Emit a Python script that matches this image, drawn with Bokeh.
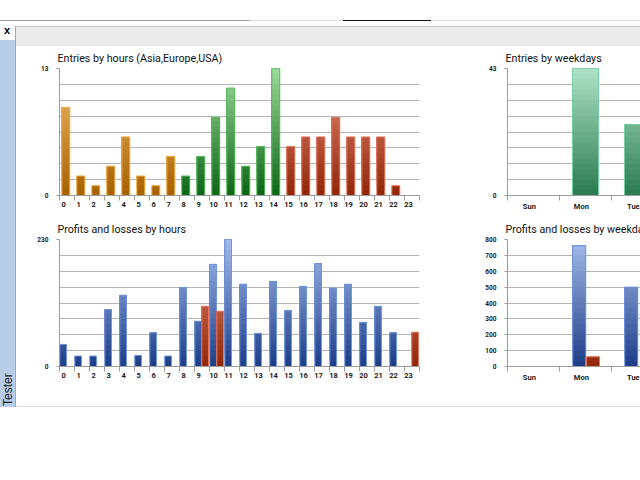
import numpy as np
from bokeh.plotting import figure
from bokeh.models import Range1d, FixedTicker, Div
from bokeh.layouts import column, row
from bokeh.embed import file_html
from bokeh.resources import INLINE

# ---------------- data ----------------
hour_labels = ["0", "1", "2", "3", "4", "5", "6", "7", "8", "9", "10", "11",
               "12", "13", "14", "15", "16", "17", "18", "19", "20", "21", "22", "23"]
hour_session = ["Asia", "Asia", "Asia", "Asia", "Asia", "Asia", "Asia", "Asia",
                "Europe", "Europe", "Europe", "Europe", "Europe", "Europe", "Europe",
                "USA", "USA", "USA", "USA", "USA", "USA", "USA", "USA", "USA"]
entries_by_hour = [9, 2, 1, 3, 6, 2, 1, 4, 2, 4, 8, 11, 3, 5, 13, 5, 6, 6, 8, 6, 6, 6, 1, 0]
profit_by_hour = [40, 19, 19, 103, 129, 20, 61, 19, 143, 82, 185, 230,
                  149, 60, 154, 101, 145, 186, 142, 149, 80, 109, 61, 0]
loss_by_hour = [0, 0, 0, 0, 0, 0, 0, 0, 0, 109, 100, 0,
                0, 0, 0, 0, 0, 0, 0, 0, 0, 0, 0, 62]

weekday_labels = ["Sun", "Mon", "Tue"]
entries_by_weekday = [0, 43, 24]
profit_by_weekday = [0, 760, 500]
loss_by_weekday = [0, 61, 0]

entries_hour_top = 13
entries_weekday_top = 43
pl_hour_top = 230
pl_weekday_ticks = [0, 100, 200, 300, 400, 500, 600, 700, 800]

# ---------------- style ----------------
FONT = "Roboto"
GRID = "#B4B4B4"
AXIS = "#9C9C9C"
PAL = {
    "Asia": ("#F2C06E", "#A66000", "#F4AC45"),
    "Europe": ("#9DD89D", "#0B6614", "#5EBE62"),
    "USA": ("#E8907C", "#902608", "#EA7A60"),
    "week": ("#AEE2C6", "#2A7A50", "#76CFA0"),
    "profit": ("#A4BCEA", "#1C3C86", "#7096E2"),
    "loss": ("#E8907C", "#902608", "#EA7A60"),
}


def _rgb(h):
    return np.array([int(h[i:i + 2], 16) for i in (1, 3, 5)], float)


def _mix(top_hex, bot_hex, t):
    c = _rgb(bot_hex) * (1 - t) + _rgb(top_hex) * t
    return "#%02x%02x%02x" % tuple(int(round(v)) for v in c)


def gradient_bars(p, xs, vals, width, ymax, pal, nb=24):
    top_hex, bot_hex, edge_hex = pal
    xs = np.asarray(xs, float)
    vals = np.asarray(vals, float)
    keep = vals > 0
    xs, vals = xs[keep], vals[keep]
    if len(xs) == 0:
        return
    for k in range(nb):
        lo = ymax * k / nb
        m = vals > lo
        if not m.any():
            break
        p.vbar(x=xs[m], bottom=lo, top=vals[m], width=width,
               fill_color=_mix(top_hex, bot_hex, (k + 0.5) / nb), line_color=None)
    p.vbar(x=xs, bottom=0, top=vals, width=width, fill_color=None,
           line_color=edge_hex, line_width=1)


def make_fig(title, width, height, xr, ymax, yticks, ygrid, xticks, xbounds, xlabels,
             left, right, top, bottom):
    p = figure(width=width, height=height, x_range=xr, y_range=Range1d(0, ymax),
               output_backend="svg", toolbar_location=None, title=title,
               min_border_left=left, min_border_right=right,
               min_border_top=top, min_border_bottom=bottom)
    p.outline_line_color = None
    p.background_fill_color = "white"
    p.border_fill_color = "white"
    p.xgrid.visible = False
    p.title.text_font = FONT
    p.title.text_font_size = "10.7px"
    p.title.text_font_style = "normal"
    p.title.text_color = "#111111"
    p.title.standoff = 7
    p.title.offset = -2

    xa = p.xaxis[0]
    xa.ticker = FixedTicker(ticks=xticks, minor_ticks=xbounds)
    xa.major_label_overrides = {t: l for t, l in zip(xticks, xlabels)}
    xa.major_tick_in = 0
    xa.major_tick_out = 0
    xa.minor_tick_in = 0
    xa.minor_tick_out = 5
    xa.minor_tick_line_color = AXIS
    xa.axis_line_color = AXIS
    xa.major_label_standoff = 1
    xa.major_label_text_font = FONT
    xa.major_label_text_font_size = "7.5px"
    xa.major_label_text_font_style = "bold"
    xa.major_label_text_color = "#1a1a1a"

    ya = p.yaxis[0]
    ya.ticker = FixedTicker(ticks=yticks, minor_ticks=ygrid)
    ya.major_tick_in = 0
    ya.major_tick_out = 3
    ya.minor_tick_in = 0
    ya.minor_tick_out = 0
    ya.major_tick_line_color = AXIS
    ya.axis_line_color = AXIS
    ya.major_label_standoff = 8
    ya.major_label_text_font = FONT
    ya.major_label_text_font_size = "6.5px"
    ya.major_label_text_font_style = "bold"
    ya.major_label_text_color = "#1a1a1a"

    p.ygrid.grid_line_color = GRID
    p.ygrid.minor_grid_line_color = GRID
    return p


hours = np.arange(len(hour_labels))
hour_bounds = [i - 0.27 for i in range(len(hour_labels) + 1)]
days = np.arange(len(weekday_labels))
day_bounds = [i - 0.42 for i in range(len(weekday_labels) + 1)]
hour_range = (-0.27, len(hour_labels) - 0.27)
day_range = (-0.42, -0.42 + 133 / 52)

# ---- chart 1: entries by hours ----
p1 = make_fig("Entries by hours (Asia,Europe,USA)", 444, 169, Range1d(*hour_range),
              entries_hour_top, [0, entries_hour_top],
              [entries_hour_top * k / 8 for k in range(9)],
              list(hours), hour_bounds, hour_labels, 43, 41, 22, 20)
for sess in ["Asia", "Europe", "USA"]:
    m = np.array([s == sess for s in hour_session])
    gradient_bars(p1, hours[m] + 0.15, np.array(entries_by_hour)[m], 0.53,
                  entries_hour_top, PAL[sess])

# ---- chart 2: entries by weekdays ----
p2 = make_fig("Entries by weekdays", 180, 169, Range1d(*day_range),
              entries_weekday_top, [0, entries_weekday_top],
              [entries_weekday_top * k / 8 for k in range(9)],
              list(days), day_bounds, weekday_labels, 47, 0, 22, 20)
gradient_bars(p2, days + 0.08, entries_by_weekday, 0.5, entries_weekday_top, PAL["week"])

# ---- chart 3: profits and losses by hours ----
p3 = make_fig("Profits and losses by hours", 444, 191, Range1d(*hour_range),
              pl_hour_top, [0, pl_hour_top],
              [pl_hour_top * k / 8 for k in range(9)],
              list(hours), hour_bounds, hour_labels, 43, 41, 24, 40)
gradient_bars(p3, hours - 0.027, profit_by_hour, 0.445, pl_hour_top, PAL["profit"])
gradient_bars(p3, hours + 0.44, loss_by_hour, 0.445, pl_hour_top, PAL["loss"])

# ---- chart 4: profits and losses by weekdays ----
p4 = make_fig("Profits and losses by weekdays", 180, 191, Range1d(*day_range),
              pl_weekday_ticks[-1], pl_weekday_ticks, pl_weekday_ticks,
              list(days), day_bounds, weekday_labels, 47, 0, 24, 40)
gradient_bars(p4, days - 0.04, profit_by_weekday, 0.25, pl_weekday_ticks[-1], PAL["profit"])
gradient_bars(p4, days + 0.225, loss_by_weekday, 0.25, pl_weekday_ticks[-1], PAL["loss"])


# ---------------- window frame ----------------
def box(x, y, w, h, color, extra=""):
    return ('<div style="position:absolute;left:%dpx;top:%dpx;width:%dpx;height:%dpx;'
            'background:%s;%s"></div>' % (x, y, w, h, color, extra))


def container(w, h, inner, overflow="hidden"):
    return ('<div style="position:relative;width:%dpx;height:%dpx;overflow:%s;'
            'background:white;margin:0;padding:0;">%s</div>' % (w, h, overflow, "".join(inner)))


top_div = Div(width=640, height=21, margin=0, text=container(640, 21, [
    box(0, 20, 250, 1, "#A0A0A0"),
    box(250, 20, 93, 1, "#E2E2E2"),
    box(343, 20, 88, 1, "#151515"),
    box(431, 20, 209, 1, "#E2E2E2"),
]))

tester = ('<div style="position:absolute;left:0px;top:19px;width:15px;height:367px;'
          'background:#B8CEE8;overflow:hidden;">'
          '<div style="position:absolute;left:1px;top:333px;width:14px;height:34px;'
          'writing-mode:vertical-rl;transform:rotate(180deg);text-align:center;'
          'font:12px \'Liberation Sans\';line-height:14px;color:#1a1a1a;white-space:nowrap;">'
          'Tester</div></div>')
close_x = ('<div style="position:absolute;left:4px;top:4px;font:bold 11px \'Liberation Sans\';'
           'line-height:11px;color:#000;">x</div>')
left_div = Div(width=16, height=451, margin=0, text=container(16, 451, [
    close_x, tester, box(15, 5, 1, 381, "#A8A8A8"),
]))

band_div = Div(width=624, height=25, margin=0, text=container(624, 25, [
    box(0, 5, 624, 1, "#C4C4C4"),
    box(0, 6, 624, 19, "#EBEBEB"),
]))
bottom_div = Div(width=624, height=66, margin=0, text=container(624, 66, [
    box(0, 0, 624, 1, "#DADADA"),
]))

main_col = column(band_div, row(p1, p2), row(p3, p4), bottom_div)
root = column(top_div, row(left_div, main_col))

open("out.html", "w").write(file_html(root, INLINE))
